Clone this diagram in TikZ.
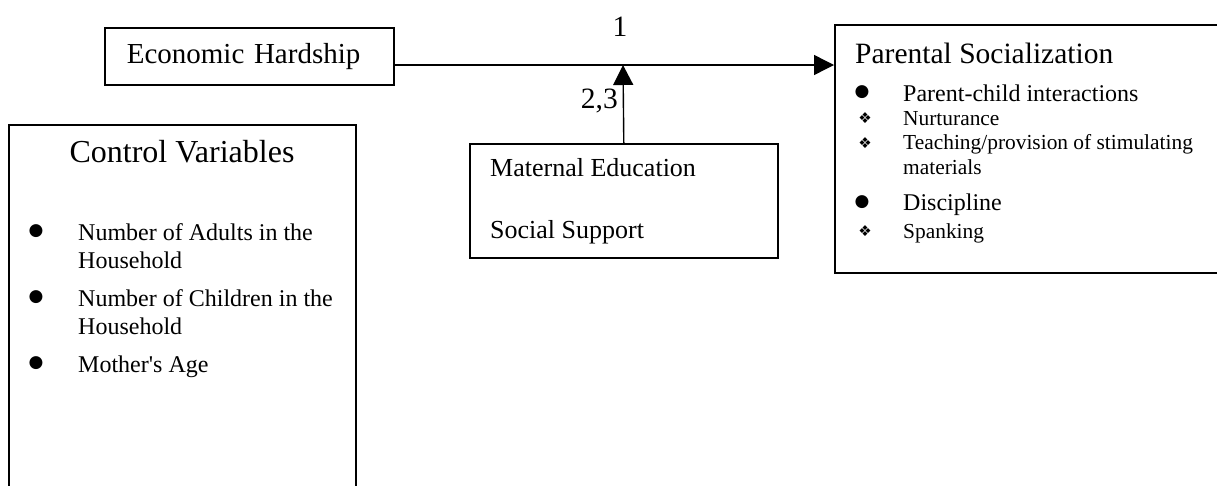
\documentclass[tikz,border=0pt]{standalone}
\usepackage{fontspec}
\setmainfont{Liberation Serif}
\newfontfamily\symfont{DejaVu Sans}
\usetikzlibrary{positioning,arrows.meta}

\begin{document}
\begin{tikzpicture}[x=1pt,y=-1pt,
	box/.style={draw, line width=1.6pt, inner sep=0pt, anchor=north west},
	txt/.style={inner sep=0pt, anchor=base west},
	dot/.style={inner sep=0pt, font=\symfont\fontsize{17}{17}\selectfont},
	dia/.style={inner sep=0pt, font=\symfont\fontsize{15}{15}\selectfont},
	big/.style={font=\fontsize{29.5}{36}\selectfont},
	mid/.style={font=\fontsize{24}{28}\selectfont},
	sml/.style={font=\fontsize{21.4}{25}\selectfont},
	arr/.style={line width=1.4pt, -{Triangle[length=20pt,width=20pt]}}
	]
	\useasboundingbox (0,0) rectangle (1217,485);
	
	% boxes
	\node[box, font=\fontsize{29}{34}\selectfont, minimum height=57pt, text width=245pt, inner xsep=22pt, align=left] (econ) at (104,27) {Economic Hardship};
	\node[box, minimum width=347pt, minimum height=380pt] (ctrl) at (8,124) {};
	\node[box, minimum width=308pt, minimum height=114pt] (matern) at (469,143) {};
	\node[box, minimum width=400pt, minimum height=248pt] (parent) at (834,24) {};
	
	\coordinate (j) at (623,65);
	
	% connectors
	\draw[arr] (econ.east |- j) -- (parent.west |- j);
	\draw[arr] (matern.north) -- (j);
	\node[txt, big, anchor=base] (l1) at (620,36) {1};
	\node[txt, big, anchor=base east] (l23) at (618,108) {2,3};
	
	% maternal
	\node[txt, font=\fontsize{26}{30}\selectfont] (me) at (490,176) {Maternal Education};
	\node[txt, font=\fontsize{26}{30}\selectfont] (ss) at (490,238) {Social Support};
	
	% control variables
	\node[txt, font=\fontsize{32}{36}\selectfont, anchor=base] (ct) at (182,162) {Control Variables};
	\node[dot] (c1) at (36,231) {●};
	\node[txt, mid] (c1a) at (78,240) {Number of Adults in the};
	\node[txt, mid] (c1b) at (78,268) {Household};
	\node[dot] (c2) at (36,297) {●};
	\node[txt, mid] (c2a) at (78,306) {Number of Children in the};
	\node[txt, mid] (c2b) at (78,334) {Household};
	\node[dot] (c3) at (36,363) {●};
	\node[txt, mid] (c3a) at (78,372) {Mother\textquotesingle s Age};
	
	% parental socialization
	\node[txt, big] (pt) at (855,63) {Parental Socialization};
	\node[dot] (p1) at (862,92) {●};
	\node[txt, mid] (p1a) at (903,101) {Parent-child interactions};
	\node[dia] (p2) at (865,118) {❖};
	\node[txt, sml] (p2a) at (903,125) {Nurturance};
	\node[dia] (p3) at (865,143) {❖};
	\node[txt, sml] (p3a) at (903,149) {Teaching/provision of stimulating};
	\node[txt, sml] (p3b) at (903,174) {materials};
	\node[dot] (p4) at (862,202) {●};
	\node[txt, mid] (p4a) at (903,210) {Discipline};
	\node[dia] (p5) at (865,231) {❖};
	\node[txt, sml] (p5a) at (903,238) {Spanking};
	
\end{tikzpicture}
\end{document}
